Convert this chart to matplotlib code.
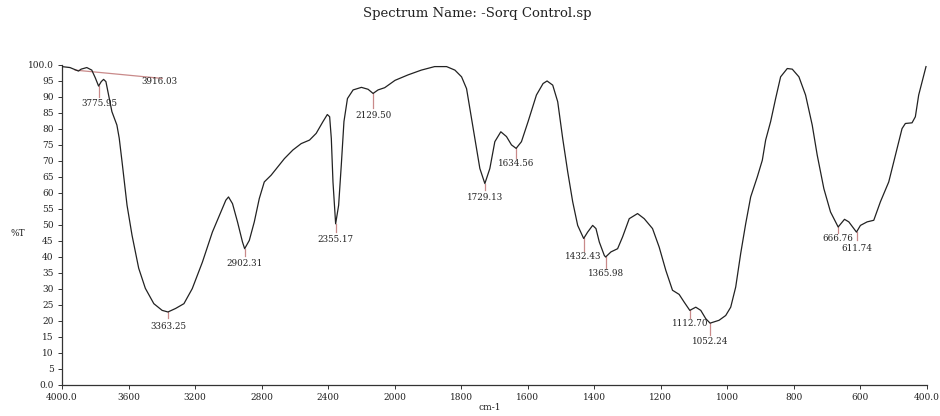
import numpy as np
import matplotlib
matplotlib.use("Agg")
import matplotlib.pyplot as plt

plt.rcParams['font.family'] = ['DejaVu Serif', 'Liberation Serif']

# ---- data ----
wavenumber = [4000, 3952, 3901, 3885, 3851, 3821, 3800, 3780, 3764, 3750,
              3736, 3720, 3700, 3670, 3656, 3639, 3609, 3579, 3539, 3499,
              3448, 3398, 3363, 3317, 3267, 3217, 3156, 3096, 3045, 3015,
              2999, 2975, 2945, 2915, 2902, 2874, 2844, 2814, 2784, 2743,
              2703, 2663, 2612, 2562, 2512, 2472, 2431, 2405, 2391, 2381,
              2371, 2355, 2337, 2321, 2305, 2284, 2250, 2200, 2160, 2130,
              2100, 2060, 1999, 1960, 1920, 1895, 1880, 1844, 1819, 1799,
              1784, 1774, 1759, 1744, 1729, 1714, 1699, 1681, 1664, 1649,
              1635, 1619, 1599, 1574, 1554, 1542, 1525, 1510, 1495, 1480,
              1465, 1450, 1432, 1420, 1405, 1395, 1385, 1370, 1366, 1350,
              1330, 1315, 1295, 1270, 1250, 1225, 1205, 1185, 1165, 1145,
              1130, 1113, 1095, 1080, 1065, 1052, 1025, 1005, 990, 975,
              960, 945, 930, 910, 895, 885, 870, 855, 840, 820,
              805, 785, 765, 745, 730, 710, 690, 667, 648, 635,
              612, 600, 580, 560, 540, 515, 495, 475, 465, 445,
              435, 425, 403]
transmittance = [99.5, 99.2, 98.1, 98.7, 99.2, 98.4, 96.0, 93.4, 94.8, 95.5,
                 94.8, 90.6, 85.4, 81.2, 77.1, 69.7, 56.1, 46.7, 36.4, 30.1,
                 25.3, 23.2, 22.7, 23.8, 25.3, 30.0, 38.3, 47.7, 54.0, 57.7,
                 58.7, 56.6, 50.9, 44.6, 42.5, 45.1, 50.9, 58.2, 63.4, 65.5,
                 68.1, 70.7, 73.4, 75.4, 76.5, 78.6, 82.3, 84.5, 83.8, 77.0,
                 63.4, 50.3, 56.1, 68.7, 82.3, 89.5, 92.2, 93.0, 92.4, 91.1,
                 92.2, 92.9, 95.2, 96.9, 98.4, 99.1, 99.5, 99.5, 98.4, 96.3,
                 92.6, 86.4, 77.0, 67.6, 62.9, 67.6, 76.0, 79.1, 77.6, 75.0,
                 73.9, 76.0, 82.3, 90.6, 94.2, 95.0, 93.7, 88.5, 77.0, 66.6,
                 57.2, 49.8, 45.7, 47.7, 49.8, 48.8, 44.6, 40.4, 39.9, 41.5,
                 42.5, 46.2, 51.9, 53.5, 51.9, 48.8, 43.0, 35.7, 29.5, 28.2,
                 25.8, 23.2, 24.2, 23.2, 20.6, 19.2, 20.1, 21.6, 24.2, 30.5,
                 41.0, 50.3, 58.7, 65.0, 70.2, 76.5, 82.3, 89.5, 96.3, 98.9,
                 98.7, 96.3, 90.6, 81.2, 71.8, 61.3, 54.0, 49.3, 51.7, 50.9,
                 47.7, 49.8, 50.9, 51.4, 57.2, 63.4, 71.8, 80.1, 81.7, 81.9,
                 83.8, 90.6, 99.5]

peak_wn = [3775.95, 3363.25, 2902.31, 2355.17, 2129.50, 1729.13, 1634.56,
           1432.43, 1365.98, 1112.70, 1052.24, 666.76, 611.74]
peak_T = [93.4, 22.7, 42.5, 50.3, 91.1, 62.9, 73.9, 45.7, 39.9, 23.2, 19.2,
          49.3, 47.7]
peak_labels = ["3775.95", "3363.25", "2902.31", "2355.17", "2129.50",
               "1729.13", "1634.56", "1432.43", "1365.98", "1112.70",
               "1052.24", "666.76", "611.74"]

baseline_wn = [3921, 3398]
baseline_T = [98.4, 95.8]
baseline_label = "3916.03"

xtick_values = [4000, 3600, 3200, 2800, 2400, 2000, 1800, 1600, 1400, 1200,
                1000, 800, 600, 400]
xtick_labels = ["4000.0", "3600", "3200", "2800", "2400", "2000", "1800",
                "1600", "1400", "1200", "1000", "800", "600", "400.0"]
ytick_values = list(range(0, 101, 5))
ytick_labels = ["0.0"] + [str(v) for v in range(5, 100, 5)] + ["100.0"]

# ---- styling / layout ----
tick_drop = [3.3, 2.0, 2.4, 2.7, 4.5, 2.1, 3.1, 4.0, 3.5, 2.5, 3.8, 2.0, 2.6]
label_drop = [5.6, 4.4, 4.7, 4.9, 7.0, 4.4, 4.7, 5.7, 5.2, 4.2, 5.8, 3.6, 5.2]
ann_color = "#c98a8a"
small = 6.3


def fwd(x):
    x = np.asarray(x, dtype=float)
    return np.where(x > 2000, 2000 + (x - 2000) * 0.5, x)


def inv(u):
    u = np.asarray(u, dtype=float)
    return np.where(u > 2000, 2000 + (u - 2000) * 2.0, u)


fig = plt.figure(figsize=(9.4, 4.16), dpi=100)
ax = fig.add_axes([62 / 940, 1 - 384.5 / 416, (927 - 62) / 940, (384.5 - 65) / 416])
ax.set_xscale('function', functions=(fwd, inv))
ax.set_xlim(4000, 400)
ax.set_ylim(0, 100)

ax.plot(wavenumber, transmittance, color="#222222", lw=0.9, zorder=3)

# baseline marker
ax.plot(baseline_wn, baseline_T, color=ann_color, lw=0.9, zorder=2)
ax.text(3414, 94.7, baseline_label, ha="center", va="center", fontsize=small,
        color="#222222")

for xw, yt, lab, td, ld in zip(peak_wn, peak_T, peak_labels, tick_drop, label_drop):
    ax.plot([xw, xw], [yt, yt - td], color=ann_color, lw=0.9, zorder=2)
    ax.text(xw, yt - ld, lab, ha="center", va="center", fontsize=small,
            color="#222222")

ax.set_xticks(xtick_values)
ax.set_xticklabels(xtick_labels)
ax.xaxis.set_minor_locator(matplotlib.ticker.NullLocator())
ax.set_yticks(ytick_values)
ax.set_yticklabels(ytick_labels)
ax.tick_params(axis='both', labelsize=6.5, length=3, width=0.7, color="#333333",
               labelcolor="#222222", pad=3)

for s in ["top", "right"]:
    ax.spines[s].set_visible(False)
for s in ["left", "bottom"]:
    ax.spines[s].set_linewidth(0.9)
    ax.spines[s].set_color("#333333")

fig.text(18 / 940, 1 - 233 / 416, "%T", ha="center", va="center", fontsize=6.5,
         color="#222222")
fig.text(490 / 940, 1 - 407 / 416, "cm-1", ha="center", va="center", fontsize=6.5,
         color="#222222")
fig.text(477 / 940, 1 - 14 / 416, "Spectrum Name: -Sorq Control.sp", ha="center",
         va="center", fontsize=9.5, color="#222222")

fig.savefig("out.png", dpi=100)
